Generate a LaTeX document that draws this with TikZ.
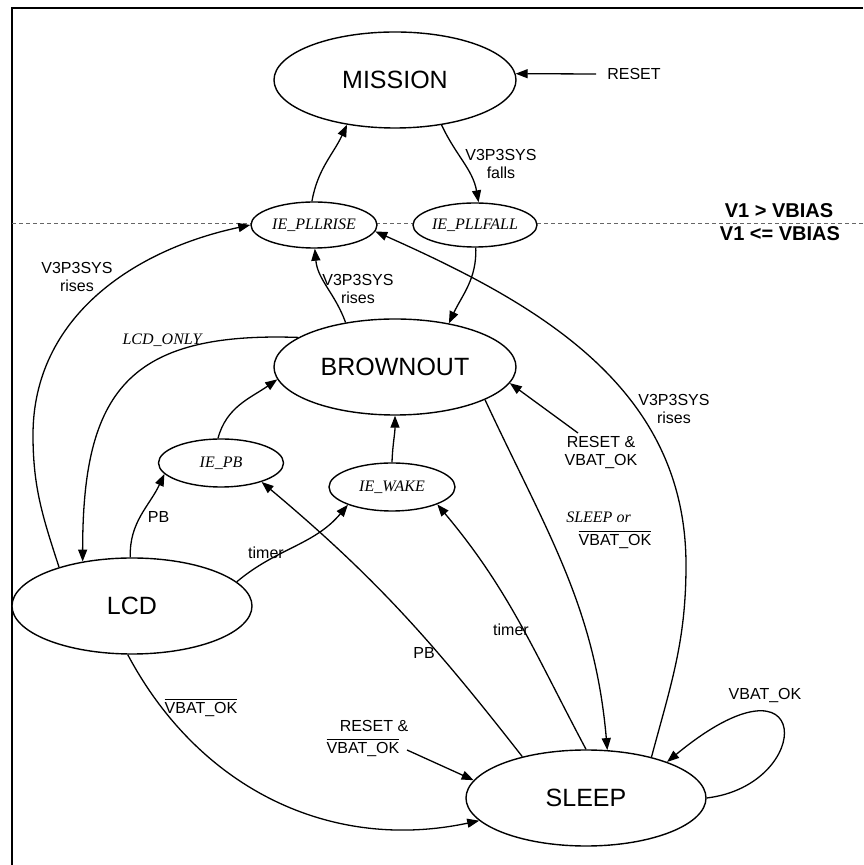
\documentclass[tikz,border=0pt]{standalone}
\usepackage{fontspec}
\setmainfont{Liberation Sans}
\newfontfamily\tnr{Liberation Serif}
\usetikzlibrary{arrows.meta,shapes.geometric}
\newcommand\ovl[1]{\setbox0=\hbox{#1}\leavevmode\rlap{\raisebox{\dimexpr\ht0+2.2pt\relax}{\rule{\wd0}{1.1pt}}}\box0}
\begin{document}
\begin{tikzpicture}[x=1pt,y=1pt,
  st/.style={ellipse,draw,line width=1.4pt,fill=white,inner sep=0pt,minimum width=242pt,minimum height=96pt,font=\fontsize{25}{28}\selectfont},
  ie/.style={ellipse,draw,line width=1.4pt,fill=white,inner sep=0pt,minimum width=126pt,minimum height=46pt,font=\tnr\itshape\fontsize{16}{18}\selectfont},
  lbl/.style={font=\fontsize{16}{18}\selectfont,align=center,inner sep=0pt},
  ilbl/.style={font=\tnr\itshape\fontsize{16}{18}\selectfont,inner sep=0pt},
  blbl/.style={font=\bfseries\fontsize{20}{22}\selectfont,inner sep=0pt},
  arr/.style={line width=1.3pt,-{Triangle[length=12pt,width=9pt]}},
]
\useasboundingbox (0,0) rectangle (863,865);
\draw[line width=2pt] (12,0) -- (12,857) -- (863,857);
\draw[dash pattern=on 4pt off 3pt, black!60, line width=0.8pt] (12,642) -- (863,642);
\node[blbl] (v1a) at (779,654) {V1 > VBIAS};
\node[blbl] (v1b) at (780,631) {V1 <= VBIAS};

% states
\node[st] (mis) at (395,785) {MISSION};
\node[st] (bro) at (395,498) {BROWNOUT};
\node[st,minimum width=240pt] (lcd) at (132,259) {LCD};
\node[st,minimum width=240pt] (slp) at (586,67) {SLEEP};
\node[ie] (plr) at (314,640) {IE\_PLLRISE};
\node[ie,minimum width=124pt,minimum height=44pt] (plf) at (475,640) {IE\_PLLFALL};
\node[ie,minimum width=125pt,minimum height=48pt] (iepb) at (221,402) {IE\_PB};
\node[ie,minimum height=48pt] (iew) at (392,378) {IE\_WAKE};

% RESET -> MISSION
\node[lbl] (rst) at (634,791) {RESET};
\draw[arr] ([xshift=-11pt]rst.west) -- (mis.3);

% IE_PLLRISE -> MISSION
\draw[arr] (plr.95) to[out=80,in=245] (mis.223);
% MISSION -> IE_PLLFALL
\draw[arr] (mis.316) to[out=-65,in=100] (plf.81);
\node[lbl] (lfall) at (501,701) {V3P3SYS\\falls};
% IE_PLLFALL -> BROWNOUT
\draw[arr] (plf.272) to[out=-88,in=65] (bro.39);
% BROWNOUT -> IE_PLLRISE
\draw[arr] (bro.138) to[out=110,in=275] (plr.272);
\node[lbl] (lrise2) at (358,576) {V3P3SYS\\rises};
% LCD -> IE_PLLRISE
\coordinate (lw) at (33,430);
\draw[arr] (lcd.152) to[out=108,in=-90] (lw) to[out=90,in=192] (plr.180);
\node[lbl] (lrise1) at (77,588) {V3P3SYS\\rises};
% BROWNOUT -> LCD
\draw[arr] (bro.163) to[out=178,in=90,looseness=1.4] (lcd.138);
\node[ilbl] (llcdonly) at (162,525) {LCD\_ONLY};
% IE_PB -> BROWNOUT
\draw[arr] (iepb.97) to[out=75,in=215] (bro.186);
% IE_WAKE -> BROWNOUT
\draw[arr] (iew.north) to[out=88,in=-90] (bro.south);
% LCD -> IE_PB
\draw[arr] (lcd.92) to[out=92,in=245] (iepb.191);
\node[lbl] (lpb1) at (158.5,348) {PB};
% LCD -> IE_WAKE
\draw[arr] (lcd.13) to[out=40,in=230] (iew.202);
\node[lbl] (ltimer1) at (266,312) {timer};
% SLEEP -> IE_PB
\draw[arr] (slp.147) to[out=128,in=-40] (iepb.-25);
\node[lbl] (lpb2) at (424,212) {PB};
% SLEEP -> IE_WAKE
\draw[arr] (slp.90) to[out=118,in=-50] (iew.-21);
\node[lbl] (ltimer2) at (511,235) {timer};
% BROWNOUT -> SLEEP
\draw[arr] (bro.-20) to[out=-65,in=95] (slp.66);
\node[ilbl] (lsleep) at (598.5,348) {SLEEP or};
\node[lbl] (lsleepb) at (615,325) {\ovl{VBAT\_OK}};
% SLEEP -> IE_PLLRISE
\coordinate (rw) at (686,300);
\draw[arr] (slp.32) to[out=75,in=-90] (rw) to[out=90,in=-24] (plr.-6);
\node[lbl] (lrise3) at (674,456) {V3P3SYS\\rises};
% RESET & VBAT_OK -> BROWNOUT
\node[lbl] (rv1) at (601,412) {RESET \&\\VBAT\_OK};
\coordinate (rv1s) at (578,432);
\draw[arr] (rv1s) -- (bro.-8);
% self loop
\draw[arr] (slp.east) .. controls (815,80) and (815,225) .. (slp.24);
\node[lbl] (lloop) at (765,169) {VBAT\_OK};
% LCD -> SLEEP
\draw[arr] (lcd.265) to[out=-62,in=192] (slp.192);
\node[lbl] (lnvb) at (201,157) {\ovl{VBAT\_OK}};
% RESET & not VBAT_OK -> SLEEP
\node[lbl] (rv2a) at (374,139) {RESET \&};
\node[lbl] (rv2b) at (363,117) {\ovl{VBAT\_OK}};
\coordinate (rv2s) at (407,115);
\draw[arr] (rv2s) -- (slp.171);
\end{tikzpicture}
\end{document}
